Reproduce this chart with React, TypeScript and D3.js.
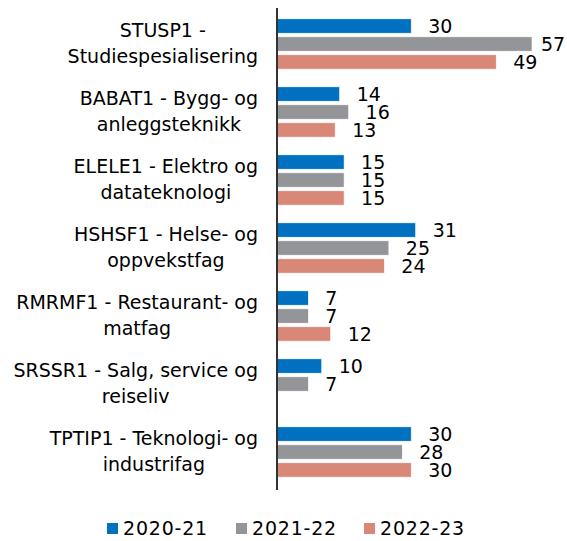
import * as d3 from "d3";

const categories = [
  ["STUSP1 -", "Studiespesialisering"],
  ["BABAT1 - Bygg- og", "anleggsteknikk"],
  ["ELELE1 - Elektro og", "datateknologi"],
  ["HSHSF1 - Helse- og", "oppvekstfag"],
  ["RMRMF1 - Restaurant- og", "matfag"],
  ["SRSSR1 - Salg, service og", "reiseliv"],
  ["TPTIP1 - Teknologi- og", "industrifag"],
];
const seriesNames = ["2020-21", "2021-22", "2022-23"];
const v2020 = [30, 14, 15, 31, 7, 10, 30];
const v2021 = [57, 16, 15, 25, 7, 7, 28];
const v2022 = [49, 13, 15, 24, 12, null, 30];
const colors = ["#0070C0", "#939598", "#D98777"];

const font = "DejaVu Sans";
const labelSize = 19;

// measure label text so each two-line block is centred and right-aligned against the axis
const ctx = document.createElement("canvas").getContext("2d")!;
ctx.font = `${labelSize}px "${font}"`;
const textWidth = (s: string) => ctx.measureText(s).width;

export default function App() {
  const width = 567;
  const height = 541;
  const marginLeft = 277;
  const marginTop = 10;
  const plotBottom = 486;
  const labelRight = 258;
  const series = [v2020, v2021, v2022];
  const keys = categories.map((_, i) => String(i));

  const x = d3.scaleLinear([0, 57], [marginLeft, 532]);
  const y = d3.scaleBand(keys, [marginTop, plotBottom]).paddingInner(0.26).paddingOuter(0.13);
  const inner = d3.scaleBand(seriesNames, [0, y.bandwidth()]).paddingInner(0.2);

  return (
    <svg width={width} height={height} style={{ position: "absolute", left: 0, top: 0 }} fontFamily={font}>
      {categories.map((lines, i) => {
        const cy = y(String(i))! + y.bandwidth() / 2;
        const w = Math.max(...lines.map(textWidth));
        const cx = labelRight - w / 2;
        return (
          <text key={i} textAnchor="middle" fontSize={labelSize} fill="#000">
            <tspan x={cx} y={cy - 7.5}>{lines[0]}</tspan>
            <tspan x={cx} y={cy + 18.5}>{lines[1]}</tspan>
          </text>
        );
      })}
      {series.map((vals, s) => (
        <g key={s}>
          {vals.map((v, i) => {
            if (v == null) return null;
            const by = y(String(i))! + inner(seriesNames[s])!;
            const end = x(v);
            const lx = Math.min(end + 17, width - 26);
            return (
              <g key={i}>
                <rect x={x(0)} y={by} width={end - x(0)} height={inner.bandwidth()} fill={colors[s]} stroke="#fff" strokeWidth={0.6} />
                <text x={lx} y={by + inner.bandwidth() / 2} dy="0.37em" fontSize={19} fill="#000">{v}</text>
              </g>
            );
          })}
        </g>
      ))}
      <line x1={marginLeft} x2={marginLeft} y1={8} y2={490} stroke="#333" strokeWidth={2} />
      {seriesNames.map((name, s) => {
        const lx = [107, 236, 364][s];
        return (
          <g key={name}>
            <rect x={lx} y={523} width={11} height={11} fill={colors[s]} />
            <text x={lx + 16} y={535} fontSize={19} letterSpacing={0.8} fill="#000">{name}</text>
          </g>
        );
      })}
    </svg>
  );
}
